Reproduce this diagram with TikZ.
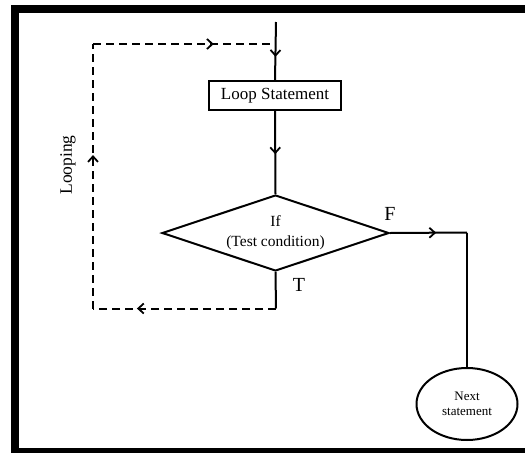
\documentclass[tikz,border=0pt]{standalone}
\usepackage{fontspec}
\setmainfont{Liberation Serif}
\usetikzlibrary{shapes.geometric,arrows.meta,decorations.markings}

\tikzset{
  flowline/.style={line width=2pt, black},
  loopline/.style={line width=2pt, black, dash pattern=on 8pt off 5pt},
  midtip/.style={postaction={decorate, decoration={markings,
      mark=at position #1 with {\arrow[line width=1.8pt]{Straight Barb[length=5.5pt,width=10pt]}}}}},
  stmtbox/.style={draw, line width=2pt, minimum width=132pt, minimum height=29pt,
      inner sep=0pt, font=\fontsize{17}{18}\selectfont},
  testbox/.style={draw, diamond, aspect=3, line width=2pt, minimum width=227pt,
      minimum height=76pt, inner sep=0pt, align=center,
      font=\fontsize{15.5}{20}\selectfont},
  endbox/.style={draw, ellipse, line width=2pt, minimum width=101pt, minimum height=72pt,
      inner sep=0pt, align=center, font=\fontsize{13}{15}\selectfont},
  branch/.style={font=\fontsize{20}{22}\selectfont, inner sep=0pt},
}

\begin{document}
\begin{tikzpicture}[x=1pt, y=-1pt]
\useasboundingbox (0,0) rectangle (525,453);
\clip (0,0) rectangle (525,453);

% frame
\fill[black] (11,5) rectangle (525,13);
\fill[black] (11,5) rectangle (18.5,453);
\fill[black] (11,448) rectangle (525,453);

% nodes
\node[stmtbox] (loop) at (275,95.5) {Loop Statement};
\node[testbox] (cond) at (275.5,233) {\raisebox{-2pt}{If}\\\raisebox{-2pt}{(Test condition)}};
\node[endbox] (next) at (467,404) {Next\\statement};

% corner points of the connectors
\coordinate (top) at (276,22);
\coordinate (jtop) at (276,44);
\coordinate (tl) at (93,44);
\coordinate (bl) at (93,308.5);
\coordinate (br) at (276,308.5);
\coordinate (fr) at (467,232.5);

% main flow
\draw[flowline, midtip=0.6] (top) -- (loop.north);
\draw[flowline, midtip=0.52] (loop.south) -- (cond.north);
\draw[flowline] (cond.south) -- (br);
\draw[flowline, midtip=0.6] (cond.east) -- (fr);
\draw[flowline] (fr) -- (next.north);

% loop back
\draw[loopline, midtip=0.76] (br) -- (bl);
\draw[loopline, midtip=0.58] (bl) -- (tl);
\draw[loopline, midtip=0.66] (tl) -- (jtop);

% labels
\node[branch] (flabel) at (390,214) {F};
\node[branch] (tlabel) at (299,285) {T};
\node[rotate=90, inner sep=0pt, font=\fontsize{17.5}{18}\selectfont] (looplabel) at (68,165) {Looping};
\end{tikzpicture}
\end{document}
